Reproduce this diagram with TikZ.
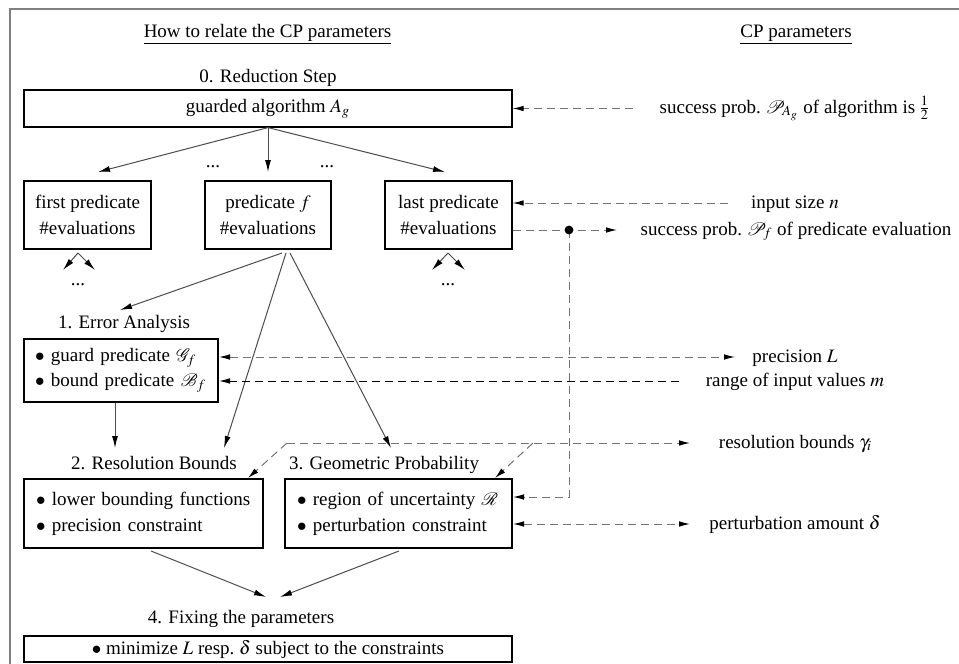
\documentclass[tikz,border=0pt]{standalone}
\usepackage{mathptmx}
\usepackage{mathrsfs}
\usepackage{fontspec}
\setmainfont{Liberation Serif}
\usetikzlibrary{arrows.meta}

\begin{document}
\begin{tikzpicture}[x=0.5pt,y=-0.5pt,
  every node/.style={font=\fontsize{9.5}{13}\selectfont, inner sep=0pt},
  lbl/.style={anchor=base},
  thinbox/.style={draw, line width=0.6pt, align=center},
  thickbox/.style={draw, line width=1pt, align=left, inner xsep=5.5pt},
  sar/.style={draw=black!70, line width=0.5pt, -{Latex[length=6pt,width=3pt,color=black]}},
  dashline/.style={draw=black!55, line width=0.5pt, dash pattern=on 4pt off 2.5pt},
  dar/.style={dashline, -{Latex[length=5.5pt,width=2.8pt,color=black]}},
  dboth/.style={dashline, {Latex[length=5.5pt,width=2.8pt,color=black]}-{Latex[length=5.5pt,width=2.8pt,color=black]}},
]
\useasboundingbox (0,0) rectangle (959,664);
\fill[white] (0,0) rectangle (959,664);

% outer frame
\draw[black!50, line width=1pt] (10,664) -- (10,9) -- (959,9);

% column headings
\node[lbl] (hl) at (267.5,37) {\underline{How to relate the CP parameters}};
\node[lbl] (hr) at (796,37) {\underline{CP parameters}};

% step 0
\node[lbl] (t0) at (268,83) {0. Reduction Step};
\node[thinbox, minimum width=244pt, minimum height=18.5pt] (alg) at (268,108.5) {guarded algorithm $A_g$};

% predicates
\node[thinbox, minimum width=63.5pt, minimum height=34pt] (first) at (87.5,215) {first predicate\\\#evaluations};
\node[thinbox, minimum width=63pt, minimum height=34pt] (pred) at (268,215) {predicate $f$\\\#evaluations};
\node[thinbox, minimum width=63.5pt, minimum height=34pt] (last) at (448.5,215) {last predicate\\\#evaluations};

\node[lbl] (d1) at (213,167) {...};
\node[lbl] (d2) at (327,167) {...};
\node[lbl] (d3) at (78,285) {...};
\node[lbl] (d4) at (448,285) {...};

% step 1
\node[lbl] (t1) at (124,328.5) {1. Error Analysis};
\node[thickbox, text width=86pt, minimum height=31.5pt, font=\fontsize{9.5}{12.5}\selectfont] (err) at (121,370.5)
  {$\bullet$ guard predicate $\mathscr{G}_f$\\$\bullet$ bound predicate $\mathscr{B}_f$};

% steps 2 and 3
\node[lbl] (t2) at (154,469.5) {2. Resolution Bounds};
\node[lbl] (t3) at (384,469.5) {3. Geometric Probability};
\node[thickbox, text width=107.5pt, minimum height=34.5pt, inner xsep=6pt] (res) at (143.5,513.5)
  {$\bullet$ lower bounding functions\\$\bullet$ precision constraint};
\node[thickbox, text width=101.5pt, minimum height=34.5pt, inner xsep=6pt] (geo) at (398.5,513.5)
  {$\bullet$ region of uncertainty $\mathscr{R}$\\$\bullet$ perturbation constraint};

% step 4
\node[lbl] (t4) at (241,623) {4. Fixing the parameters};
\node[thickbox, align=center, minimum width=244pt, minimum height=13pt] (fix) at (268,649)
  {$\bullet$ minimize $L$ resp.\ $\delta$ subject to the constraints};

% CP parameters
\node[lbl] (pAg) at (795,113) {success prob.\ $\mathscr{P}_{\!A_g}$ of algorithm is\,$\frac{1}{2}$};
\node[lbl] (pn) at (795,208) {input size $n$};
\node[lbl] (pPf) at (796,235) {success prob.\ $\mathscr{P}_{\!f}$ of predicate evaluation};
\node[lbl] (pL) at (795,362) {precision $L$};
\node[lbl] (pm) at (795,386) {range of input values $m$};
\node[lbl] (pg) at (795.5,448) {resolution bounds $\gamma_i$};
\node[lbl] (pd) at (795,529) {perturbation amount $\delta$};

% solid connectors
\coordinate (a1) at (98,172);
\coordinate (a2) at (268,172);
\coordinate (a3) at (445,172);
\draw[sar] (alg.south) -- (a1);
\draw[sar] (alg.south) -- (a2);
\draw[sar] (alg.south) -- (a3);

\coordinate (f1) at (78,253);
\coordinate (f1l) at (63,270);
\coordinate (f1r) at (95,270);
\draw[sar] (f1) -- (f1l);
\draw[sar] (f1) -- (f1r);
\coordinate (f2) at (448,253);
\coordinate (f2l) at (432,270);
\coordinate (f2r) at (465,270);
\draw[sar] (f2) -- (f2l);
\draw[sar] (f2) -- (f2r);

\coordinate (s1) at (282,253);
\coordinate (s2) at (286,253);
\coordinate (s3) at (290,253);
\coordinate (e1) at (120,310);
\coordinate (e2) at (224,448);
\coordinate (e3) at (391,448);
\draw[sar] (s1) -- (e1);
\draw[sar] (s2) -- (e2);
\draw[sar] (s3) -- (e3);

\coordinate (r1) at (115,448);
\draw[sar] (err.south -| r1) -- (r1);

\coordinate (b2) at (151,551);
\coordinate (b3) at (399,551);
\coordinate (g2) at (266,597);
\coordinate (g3) at (280,597);
\draw[sar] (b2) -- (g2);
\draw[sar] (b3) -- (g3);

% dashed connectors
\coordinate (cA) at (633,108.5);
\draw[dar] (cA) -- (cA -| alg.east);
\coordinate (cn) at (728,203);
\draw[dar] (cn) -- (cn -| last.east);
\coordinate (cf) at (617,230);
\coordinate (dot) at (569,230);
\draw[dar] (cf -| last.east) -- (cf);
\coordinate (cR) at (569,497);
\draw[dar] (dot) -- (cR) -- (cR -| geo.east);
\fill (dot) circle (2.2pt);

\coordinate (cL) at (735,357);
\draw[dboth] (cL -| err.east) -- (cL);
\coordinate (cm) at (679,381);
\draw[dar, draw=black] (cm) -- (cm -| err.east);

\coordinate (rb) at (287,443);
\coordinate (rbE) at (690,443);
\coordinate (rbB) at (533,443);
\coordinate (rt2) at (248,478);
\coordinate (rt3) at (495,478);
\draw[dar] (rb) -- (rbE);
\draw[dar] (rb) -- (rt2);
\draw[dar] (rbB) -- (rt3);

\coordinate (cd) at (690,524);
\draw[dboth] (cd -| geo.east) -- (cd);
\end{tikzpicture}
\end{document}
